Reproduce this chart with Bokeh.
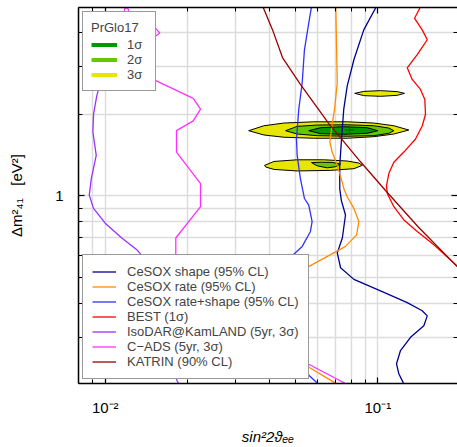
from bokeh.plotting import figure
from bokeh.models import Range1d, LogAxis, FixedTicker, Legend, LegendItem
from bokeh.embed import file_html
from bokeh.resources import INLINE

FONT = "Liberation Sans"

# ---------------- data ----------------
# PrGlo17 allowed regions (sin^2 2theta_ee, dm^2_41)
big3_x = [0.0336, 0.0382, 0.0452, 0.0582, 0.0772, 0.0967, 0.1145, 0.1299, 0.1145, 0.0967, 0.0772, 0.0582, 0.0452, 0.0382]
big3_y = [1.739, 1.814, 1.856, 1.876, 1.876, 1.856, 1.814, 1.749, 1.691, 1.653, 1.631, 1.631, 1.645, 1.677]
low3_x = [0.0384, 0.0416, 0.0506, 0.0633, 0.0772, 0.0852, 0.0877, 0.0817, 0.0671, 0.0506, 0.0416, 0.0388]
low3_y = [1.295, 1.339, 1.358, 1.358, 1.344, 1.321, 1.295, 1.259, 1.241, 1.235, 1.251, 1.277]
up3_x = [0.0823, 0.0888, 0.1023, 0.1178, 0.1253, 0.1178, 0.1023, 0.0888]
up3_y = [2.39, 2.43, 2.445, 2.425, 2.39, 2.35, 2.33, 2.344]
big2_x = [0.0459, 0.0506, 0.0599, 0.0772, 0.0967, 0.1098, 0.1145, 0.1098, 0.0967, 0.0772, 0.0599, 0.0506]
big2_y = [1.739, 1.805, 1.825, 1.829, 1.814, 1.779, 1.739, 1.701, 1.667, 1.659, 1.667, 1.691]
low2_x = [0.0571, 0.0620, 0.0680, 0.0730, 0.0699, 0.0652, 0.0599]
low2_y = [1.326, 1.330, 1.328, 1.310, 1.280, 1.268, 1.290]
big1_x = [0.0558, 0.0616, 0.0750, 0.0914, 0.1000, 0.0914, 0.0750, 0.0616]
big1_y = [1.739, 1.784, 1.799, 1.784, 1.739, 1.701, 1.687, 1.696]
bestfit_x = [0.0787]
bestfit_y = [1.75]

# sensitivity / exclusion curves
cesox_shape_x = [0.1005, 0.0987, 0.0888, 0.0817, 0.0772, 0.0750, 0.0736, 0.0725, 0.0725, 0.0735, 0.0761,
                 0.0741, 0.0710, 0.0730, 0.0817, 0.1023, 0.1282, 0.1455, 0.1518, 0.1475, 0.1318, 0.1211,
                 0.1171, 0.1194, 0.1239, 0.1260]
cesox_shape_y = [5.2, 4.99, 4.10, 3.18, 2.54, 2.09, 1.62, 1.295, 1.06, 0.96, 0.849,
                 0.698, 0.615, 0.542, 0.491, 0.445, 0.403, 0.376, 0.360, 0.331, 0.300, 0.268,
                 0.2395, 0.220, 0.204, 0.195]

cesox_rate_x = [0.0700, 0.0701, 0.0706, 0.0710, 0.0694, 0.0680, 0.0667, 0.0680, 0.0710, 0.0740, 0.0750,
                0.0772, 0.0817, 0.0852, 0.0836, 0.0761, 0.0671, 0.0553, 0.0470, 0.0440, 0.0480, 0.0557,
                0.0694, 0.0750]
cesox_rate_y = [5.2, 4.99, 3.46, 2.62, 2.09, 1.84, 1.58, 1.45, 1.295, 1.125, 1.063,
                0.992, 0.898, 0.803, 0.717, 0.650, 0.606, 0.545, 0.45, 0.33, 0.26, 0.233,
                0.204, 0.195]

cesox_rs_x = [0.0576, 0.0571, 0.0558, 0.0538, 0.0528, 0.0513, 0.0503, 0.0506, 0.0520, 0.0538, 0.0558,
              0.0574, 0.0566, 0.0528, 0.0475, 0.0420, 0.0400, 0.0460, 0.0551, 0.0602, 0.0630]
cesox_rs_y = [5.2, 4.99, 4.34, 3.46, 2.62, 2.09, 1.62, 1.41, 1.157, 0.977, 0.924,
              0.803, 0.738, 0.650, 0.589, 0.50, 0.35, 0.26, 0.220, 0.2025, 0.195]

best_x = [0.1465, 0.1434, 0.1364, 0.1455, 0.1518, 0.1395, 0.1282, 0.1337, 0.1434, 0.1487, 0.1496, 0.1455,
          0.1375, 0.1246, 0.1145, 0.1098, 0.1076, 0.1083, 0.1145, 0.1246, 0.1395, 0.1605, 0.1956, 0.2150]
best_y = [5.2, 4.99, 4.525, 4.10, 3.77, 3.32, 2.97, 2.69, 2.47, 2.27, 2.00, 1.81,
          1.62, 1.45, 1.33, 1.21, 1.09, 1.02, 0.911, 0.814, 0.738, 0.659, 0.550, 0.50]

isodar_x = [0.0098, 0.0096, 0.00951, 0.00931, 0.00906, 0.00901, 0.00927, 0.00889, 0.00874, 0.00906,
            0.0100, 0.0115, 0.01306, 0.01402, 0.0155, 0.0170, 0.01831, 0.01857, 0.0188]
isodar_y = [4.0, 2.8, 2.53, 2.34, 2.00, 1.72, 1.41, 1.157, 1.005, 0.898,
            0.792, 0.698, 0.632, 0.581, 0.45, 0.30, 0.2083, 0.2025, 0.195]

cads_x = [0.0116, 0.0118, 0.0121, 0.0125, 0.0140, 0.01466, 0.01586, 0.01466, 0.0145, 0.0150, 0.02102,
          0.02237, 0.02102, 0.01826, 0.01826, 0.02237, 0.02237, 0.01815, 0.01815, 0.0220, 0.0300,
          0.0450, 0.0553, 0.0761, 0.0820]
cads_y = [4.5, 4.93, 4.93, 4.5, 4.45, 4.36, 3.99, 3.77, 3.2, 2.69, 2.29,
          2.09, 1.89, 1.74, 1.45, 1.109, 0.911, 0.698, 0.589, 0.45, 0.33,
          0.27, 0.2395, 0.2025, 0.195]

katrin_x = [0.0372, 0.0378, 0.0411, 0.0447, 0.0520, 0.0659, 0.0864, 0.1067, 0.1410, 0.1960, 0.2100]
katrin_y = [5.3, 5.02, 4.10, 3.24, 2.58, 1.856, 1.335, 1.046, 0.765, 0.546, 0.51]

# axis ticks
x_major = [0.01, 0.1]
x_minor = [0.008, 0.009, 0.02, 0.03, 0.04, 0.05, 0.06, 0.07, 0.08, 0.09, 0.2]
y_major = [1]
y_minor = [0.2, 0.3, 0.4, 0.5, 0.6, 0.7, 0.8, 0.9, 2, 3, 4, 5]
x_labels = {0.01: "10\u207b\u00b2", 0.1: "10\u207b\u00b9"}
y_labels = {1: "1"}

# colours
c_1s, c_2s, c_3s = "#009900", "#66c800", "#e6e600"
c_shape, c_rate, c_rs = "#00008f", "#ff8c00", "#3030ff"
c_best, c_iso, c_cads, c_kat = "#ff0000", "#9b30ff", "#ff30ff", "#990000"

# ---------------- figure ----------------
p = figure(width=457, height=447, x_axis_type="log", y_axis_type="log",
           x_range=Range1d(0.00798, 0.196), y_range=Range1d(0.2025, 4.96),
           output_backend="svg", toolbar_location=None,
           min_border_left=78, min_border_right=0, min_border_top=7, min_border_bottom=60)
p.outline_line_color = None
p.background_fill_color = "white"
p.border_fill_color = "white"

xticker = FixedTicker(ticks=x_major, minor_ticks=x_minor)
yticker = FixedTicker(ticks=y_major, minor_ticks=y_minor)


def style_axis(ax, ticker):
    ax.ticker = ticker
    ax.axis_line_color = "black"
    ax.axis_line_width = 1.5
    ax.major_tick_line_color = "black"
    ax.major_tick_line_width = 1.2
    ax.minor_tick_line_color = "black"
    ax.minor_tick_line_width = 1.0
    ax.major_tick_in = 6
    ax.major_tick_out = 0
    ax.minor_tick_in = 4
    ax.minor_tick_out = 0
    ax.major_label_text_font = FONT
    ax.major_label_text_font_size = "15px"
    ax.major_label_text_color = "black"
    ax.axis_label_text_font = FONT
    ax.axis_label_text_color = "black"


xa = p.below[0]
style_axis(xa, xticker)
xa.major_label_overrides = x_labels
xa.major_label_standoff = 15
xa.axis_label = "sin\u00b22\u03d1\u2091\u2091"
xa.axis_label_text_font_style = "italic"
xa.axis_label_text_font_size = "15px"
xa.axis_label_standoff = 9

ya = p.left[0]
style_axis(ya, yticker)
ya.major_label_overrides = y_labels
ya.major_label_standoff = 15
ya.axis_label = "\u0394m\u00b2\u2084\u2081\u00a0\u00a0\u00a0[eV\u00b2]"
ya.axis_label_text_font_style = "normal"
ya.axis_label_text_font_size = "15px"
ya.axis_label_standoff = 27

top_ax = LogAxis()
style_axis(top_ax, xticker)
top_ax.major_label_text_font_size = "0px"
top_ax.major_label_standoff = 0
top_ax.major_label_text_color = None
p.add_layout(top_ax, "above")

right_ax = LogAxis()
style_axis(right_ax, yticker)
right_ax.axis_line_color = None
right_ax.major_label_text_font_size = "0px"
right_ax.major_label_standoff = 0
right_ax.major_label_text_color = None
p.add_layout(right_ax, "right")

for g, t in ((p.xgrid, xticker), (p.ygrid, yticker)):
    g.ticker = t
    g.grid_line_color = "#dcdcdc"
    g.grid_line_width = 1.5
    g.minor_grid_line_color = "#dcdcdc"
    g.minor_grid_line_width = 1.5

# allowed regions
p.patches([big3_x, low3_x, up3_x], [big3_y, low3_y, up3_y],
          fill_color=c_3s, line_color="black", line_width=1)
p.patches([big2_x, low2_x], [big2_y, low2_y],
          fill_color=c_2s, line_color="black", line_width=1)
p.patches([big1_x], [big1_y], fill_color=c_1s, line_color="black", line_width=1)
p.scatter(bestfit_x, bestfit_y, marker="cross", size=9, line_color="#006600", line_width=1.2)

lw = 1.3
r_shape = p.line(cesox_shape_x, cesox_shape_y, line_color=c_shape, line_width=lw)
r_rate = p.line(cesox_rate_x, cesox_rate_y, line_color=c_rate, line_width=lw)
r_rs = p.line(cesox_rs_x, cesox_rs_y, line_color=c_rs, line_width=lw)
r_best = p.line(best_x, best_y, line_color=c_best, line_width=lw)
r_iso = p.line(isodar_x, isodar_y, line_color=c_iso, line_width=lw)
r_cads = p.line(cads_x, cads_y, line_color=c_cads, line_width=lw)
r_kat = p.line(katrin_x, katrin_y, line_color=c_kat, line_width=lw)

# legend proxies for the confidence levels (hidden renderers, only the legend glyph is shown)
l1 = p.line(big1_x, big1_y, line_color=c_1s, line_width=4, visible=False)
l2 = p.line(big2_x, big2_y, line_color=c_2s, line_width=4, visible=False)
l3 = p.line(big3_x, big3_y, line_color=c_3s, line_width=4, visible=False)

leg1 = Legend(items=[LegendItem(label="1\u03c3", renderers=[l1]),
                     LegendItem(label="2\u03c3", renderers=[l2]),
                     LegendItem(label="3\u03c3", renderers=[l3])],
              location="top_left", margin=4, padding=8, spacing=0,
              label_height=15, glyph_height=15, glyph_width=26, label_standoff=10,
              label_text_font=FONT, label_text_font_size="13px",
              title="PrGlo17", title_text_font=FONT, title_text_font_size="13px",
              title_text_font_style="normal", title_standoff=2,
              inactive_fill_alpha=0,
              border_line_color="#333333", border_line_width=1.2, background_fill_alpha=1)
p.add_layout(leg1)

leg2 = Legend(items=[LegendItem(label="CeSOX shape (95% CL)", renderers=[r_shape]),
                     LegendItem(label="CeSOX rate (95% CL)", renderers=[r_rate]),
                     LegendItem(label="CeSOX rate+shape (95% CL)", renderers=[r_rs]),
                     LegendItem(label="BEST (1\u03c3)", renderers=[r_best]),
                     LegendItem(label="IsoDAR@KamLAND (5yr, 3\u03c3)", renderers=[r_iso]),
                     LegendItem(label="C\u2212ADS (5yr, 3\u03c3)", renderers=[r_cads]),
                     LegendItem(label="KATRIN (90% CL)", renderers=[r_kat])],
              location="bottom_left", margin=4, padding=9, spacing=0,
              label_height=15, glyph_height=15, glyph_width=24, label_standoff=11,
              label_text_font=FONT, label_text_font_size="13px",
              border_line_color="#333333", border_line_width=1.2, background_fill_alpha=1)
p.add_layout(leg2)

open("out.html", "w").write(file_html(p, INLINE))
